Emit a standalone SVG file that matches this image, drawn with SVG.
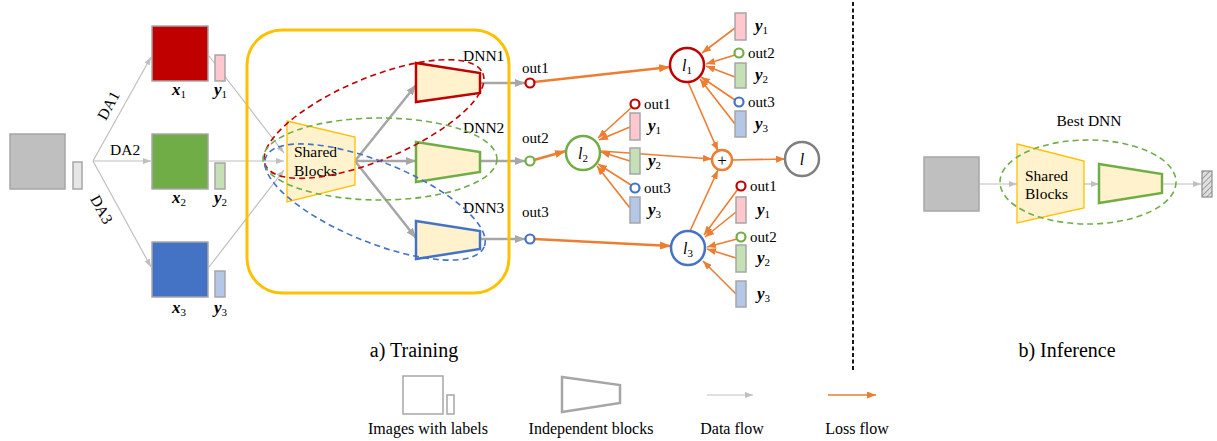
<svg xmlns="http://www.w3.org/2000/svg" width="1217" height="441" viewBox="0 0 1217 441" font-family="'Liberation Serif', 'DejaVu Serif', 'Times New Roman', serif">
<defs>
<style>
text { font-family: 'Liberation Serif', 'DejaVu Serif', 'Times New Roman', serif; fill: #000; }
.t15 { font-size: 15.5px; }
.out { font-size: 15px; }
.math { font-weight: bold; font-style: italic; font-size: 17px; }
.sub { font-size: 11px; font-weight: normal; font-style: normal; }
.lv { font-style: italic; font-size: 16px; }
.cap { font-size: 20px; }
.leg { font-size: 16px; }
.data { stroke: #bfbfbf; stroke-width: 1.2; fill: none; marker-end: url(#ah-g); }
.thick { stroke: #a6a6a6; stroke-width: 2.5; fill: none; marker-end: url(#ah-gl); }
.loss { stroke: #ed7d31; stroke-width: 1.6; fill: none; marker-end: url(#ah-o); }
.loss2 { stroke: #ed7d31; stroke-width: 2.4; fill: none; marker-end: url(#ah-o2); }
.trap { fill: #fff2cc; stroke-width: 2.5; stroke-linejoin: miter; }
.ell { fill: none; stroke-width: 1.6; stroke-dasharray: 6 4; }
.lbl { stroke: #a6a6a6; stroke-width: 1.5; }
.pink { fill: #ffc7ce; }
.lgreen { fill: #c5e0b4; }
.lblue { fill: #b4c7e7; }
.oc { fill: #fff; stroke-width: 2.2; }
.red { stroke: #c00000; }
.green { stroke: #70ad47; }
.blue { stroke: #4472c4; }
</style>
<marker id="ah-g" viewBox="0 0 8 6" refX="8" refY="3" markerWidth="8" markerHeight="6" orient="auto" markerUnits="userSpaceOnUse"><path d="M0,0 L8,3 L0,6 z" fill="#bfbfbf"/></marker>
<marker id="ah-gl" viewBox="0 0 10 8" refX="10" refY="4" markerWidth="10" markerHeight="8" orient="auto" markerUnits="userSpaceOnUse"><path d="M0,0 L10,4 L0,8 z" fill="#a6a6a6"/></marker>
<marker id="ah-o" viewBox="0 0 9 7" refX="9" refY="3.5" markerWidth="9" markerHeight="7" orient="auto" markerUnits="userSpaceOnUse"><path d="M0,0 L9,3.5 L0,7 z" fill="#ed7d31"/></marker>
<marker id="ah-o2" viewBox="0 0 11 8" refX="11" refY="4" markerWidth="11" markerHeight="8" orient="auto" markerUnits="userSpaceOnUse"><path d="M0,0 L11,4 L0,8 z" fill="#ed7d31"/></marker>
<pattern id="hatch" width="4" height="4" patternUnits="userSpaceOnUse" patternTransform="rotate(45)"><rect width="4" height="4" fill="#e0e0e0"/><line x1="0" y1="0" x2="0" y2="4" stroke="#8c8c8c" stroke-width="1.6"/></pattern>
</defs>

<rect width="1217" height="441" fill="#fff"/>

<g id="connectors">
  <line class="data" x1="93" y1="161" x2="151" y2="57"/>
  <line class="data" x1="93" y1="161" x2="151" y2="161"/>
  <line class="data" x1="93" y1="161" x2="151" y2="267"/>
  <line class="data" x1="209" y1="56" x2="284" y2="153"/>
  <line class="data" x1="209" y1="161" x2="284" y2="161"/>
  <line class="data" x1="209" y1="267" x2="284" y2="170"/>
  <line class="thick" x1="355" y1="161" x2="416" y2="85"/>
  <line class="thick" x1="355" y1="161" x2="416" y2="161"/>
  <line class="thick" x1="355" y1="161" x2="416" y2="238"/>
  <line class="thick" x1="480" y1="83" x2="525" y2="83"/>
  <line class="thick" x1="480" y1="161" x2="525" y2="161"/>
  <line class="thick" x1="480" y1="239" x2="525" y2="239"/>
  <line class="loss2" x1="534" y1="82" x2="670" y2="67"/>
  <line class="loss2" x1="534" y1="160" x2="566" y2="151"/>
  <line class="loss2" x1="534" y1="239" x2="671" y2="246"/>
  <line class="loss" x1="688" y1="82" x2="718" y2="151"/>
  <line class="loss" x1="690" y1="231" x2="718" y2="170"/>
  <line class="loss" x1="601" y1="151" x2="712" y2="159"/>
  <line class="loss" x1="732" y1="160" x2="785" y2="159"/>
  <line class="loss" x1="735" y1="28" x2="702" y2="53"/>
  <line class="loss" x1="735" y1="55" x2="706" y2="64"/>
  <line class="loss" x1="735" y1="77" x2="706" y2="66"/>
  <line class="loss" x1="735" y1="100" x2="701" y2="77"/>
  <line class="loss" x1="735" y1="124" x2="700" y2="79"/>
  <line class="loss" x1="632" y1="107" x2="598" y2="138"/>
  <line class="loss" x1="630" y1="127" x2="599" y2="140"/>
  <line class="loss" x1="630" y1="161" x2="601" y2="152"/>
  <line class="loss" x1="631" y1="185" x2="598" y2="164"/>
  <line class="loss" x1="630" y1="208" x2="597" y2="166"/>
  <line class="loss" x1="738" y1="189" x2="704" y2="235"/>
  <line class="loss" x1="736" y1="212" x2="705" y2="237"/>
  <line class="loss" x1="737" y1="239" x2="707" y2="247"/>
  <line class="loss" x1="736" y1="258" x2="707" y2="249"/>
  <line class="loss" x1="736" y1="294" x2="703" y2="261"/>
  <line class="data" x1="979" y1="184" x2="1017" y2="184"/>
  <line class="data" x1="1084" y1="184" x2="1099" y2="184"/>
  <line class="data" x1="1162" y1="184" x2="1201" y2="184"/>
</g>

<g id="source">
  <rect x="10" y="134" width="55" height="55" fill="#bfbfbf" stroke="#a6a6a6" stroke-width="1.5"/>
  <rect x="73" y="162" width="9" height="27" fill="#e6e6e6" class="lbl"/>
</g>
<g id="da-labels">
  <text class="t15" transform="translate(113,108) rotate(-61)" text-anchor="middle">DA1</text>
  <text class="t15" x="110" y="155">DA2</text>
  <text class="t15" transform="translate(97,212) rotate(61)" text-anchor="middle">DA3</text>
</g>

<g id="img1">
  <rect x="152" y="26" width="56" height="55" fill="#c00000" stroke="#a6a6a6" stroke-width="1.5"/>
  <rect x="215" y="55" width="10" height="26" class="pink lbl"/>
  <text class="math" x="172" y="95">x<tspan class="sub" dy="3">1</tspan></text>
  <text class="math" x="214" y="95">y<tspan class="sub" dy="3">1</tspan></text>
</g>
<g id="img2">
  <rect x="152" y="134" width="56" height="55" fill="#70ad47" stroke="#a6a6a6" stroke-width="1.5"/>
  <rect x="215" y="163" width="10" height="26" class="lgreen lbl"/>
  <text class="math" x="172" y="203">x<tspan class="sub" dy="3">2</tspan></text>
  <text class="math" x="214" y="203">y<tspan class="sub" dy="3">2</tspan></text>
</g>
<g id="img3">
  <rect x="152" y="242" width="56" height="55" fill="#4472c4" stroke="#a6a6a6" stroke-width="1.5"/>
  <rect x="215" y="271" width="10" height="26" class="lblue lbl"/>
  <text class="math" x="172" y="313">x<tspan class="sub" dy="3">3</tspan></text>
  <text class="math" x="214" y="313">y<tspan class="sub" dy="3">3</tspan></text>
</g>

<g id="training-box">
  <rect x="247" y="30" width="262" height="263" rx="35" fill="none" stroke="#ffc000" stroke-width="3"/>
</g>

<g id="shared-blocks">
  <polygon points="287,121 355,137 355,185 287,202" fill="#fff2cc" stroke="#ffc000" stroke-width="1.3"/>
  <text class="t15" x="294" y="157">Shared</text>
  <text class="t15" x="294" y="176">Blocks</text>
</g>

<g id="dnn1">
  <polygon class="trap red" points="416,63 480,73 480,93 416,102"/>
  <text class="t15" x="463" y="61">DNN1</text>
</g>
<g id="dnn2">
  <polygon class="trap green" points="416,142 480,152 480,172 416,182"/>
  <text class="t15" x="463" y="133">DNN2</text>
</g>
<g id="dnn3">
  <polygon class="trap blue" points="416,221 480,231 480,249 416,259"/>
  <text class="t15" x="463" y="213">DNN3</text>
</g>

<g id="ellipses">
  <ellipse class="ell red" cx="374" cy="119" rx="118" ry="41" transform="rotate(-22.8 374 119)"/>
  <ellipse class="ell green" cx="380" cy="159" rx="117" ry="41"/>
  <ellipse class="ell blue" cx="375" cy="202" rx="118" ry="40" transform="rotate(22.3 375 202)"/>
</g>

<g id="out1">
  <circle class="oc red" cx="530" cy="83" r="4.5"/>
  <text class="out" x="522" y="73">out1</text>
</g>
<g id="out2">
  <circle class="oc green" cx="530" cy="161" r="4.5"/>
  <text class="out" x="522" y="143">out2</text>
</g>
<g id="out3">
  <circle class="oc blue" cx="530" cy="239" r="4.5"/>
  <text class="out" x="522" y="217">out3</text>
</g>

<g id="l1">
  <circle cx="687" cy="65" r="17" fill="#fff" stroke="#c00000" stroke-width="2.5"/>
  <text class="lv" x="682" y="71">l<tspan class="sub" dy="3">1</tspan></text>
</g>
<g id="l1-inputs">
  <rect x="735" y="13" width="11" height="27" class="pink lbl"/>
  <text class="math" x="755" y="31">y<tspan class="sub" dy="3">1</tspan></text>
  <circle class="oc green" cx="739" cy="53" r="4.5"/>
  <text class="out" x="748" y="58">out2</text>
  <rect x="735" y="63" width="11" height="25" class="lgreen lbl"/>
  <text class="math" x="755" y="80">y<tspan class="sub" dy="3">2</tspan></text>
  <circle class="oc blue" cx="739" cy="102" r="4.5"/>
  <text class="out" x="748" y="107">out3</text>
  <rect x="735" y="111" width="11" height="26" class="lblue lbl"/>
  <text class="math" x="755" y="129">y<tspan class="sub" dy="3">3</tspan></text>
</g>

<g id="l2">
  <circle cx="583" cy="153" r="17" fill="#fff" stroke="#70ad47" stroke-width="2.5"/>
  <text class="lv" x="578" y="159">l<tspan class="sub" dy="3">2</tspan></text>
</g>
<g id="l2-inputs">
  <circle class="oc red" cx="635" cy="104" r="4.5"/>
  <text class="out" x="644" y="109">out1</text>
  <rect x="630" y="113" width="10" height="27" class="pink lbl"/>
  <text class="math" x="648" y="131">y<tspan class="sub" dy="3">1</tspan></text>
  <rect x="630" y="148" width="10" height="26" class="lgreen lbl"/>
  <text class="math" x="648" y="166">y<tspan class="sub" dy="3">2</tspan></text>
  <circle class="oc blue" cx="635" cy="188" r="4.5"/>
  <text class="out" x="644" y="193">out3</text>
  <rect x="630" y="197" width="10" height="26" class="lblue lbl"/>
  <text class="math" x="648" y="215">y<tspan class="sub" dy="3">3</tspan></text>
</g>

<g id="l3">
  <circle cx="688" cy="248" r="17" fill="#fff" stroke="#4472c4" stroke-width="2.5"/>
  <text class="lv" x="683" y="254">l<tspan class="sub" dy="3">3</tspan></text>
</g>
<g id="l3-inputs">
  <circle class="oc red" cx="741" cy="186" r="4.5"/>
  <text class="out" x="750" y="191">out1</text>
  <rect x="736" y="197" width="10" height="26" class="pink lbl"/>
  <text class="math" x="757" y="215">y<tspan class="sub" dy="3">1</tspan></text>
  <circle class="oc green" cx="741" cy="237" r="4.5"/>
  <text class="out" x="750" y="242">out2</text>
  <rect x="736" y="245" width="10" height="27" class="lgreen lbl"/>
  <text class="math" x="757" y="263">y<tspan class="sub" dy="3">2</tspan></text>
  <rect x="736" y="281" width="10" height="26" class="lblue lbl"/>
  <text class="math" x="757" y="299">y<tspan class="sub" dy="3">3</tspan></text>
</g>

<g id="plus">
  <circle cx="722" cy="160" r="10" fill="#fff" stroke="#ed7d31" stroke-width="2.5"/>
  <text x="722" y="165.5" font-size="17" text-anchor="middle">+</text>
</g>
<g id="total-loss">
  <circle cx="802" cy="159" r="17" fill="#fff" stroke="#7f7f7f" stroke-width="2.5"/>
  <text class="lv" x="802" y="165" font-size="17" text-anchor="middle">l</text>
</g>

<g id="divider">
  <line x1="853" y1="2" x2="853" y2="370" stroke="#000" stroke-width="1.8" stroke-dasharray="4 2.5"/>
</g>

<g id="captions">
  <text class="cap" x="414" y="357" text-anchor="middle">a) Training</text>
  <text class="cap" x="1067" y="357" text-anchor="middle">b) Inference</text>
</g>

<g id="inf-input">
  <rect x="924" y="157" width="55" height="54" fill="#bfbfbf" stroke="#a6a6a6" stroke-width="1.5"/>
</g>
<g id="inf-shared">
  <polygon points="1017,144 1084,161 1084,208 1017,223" fill="#fff2cc" stroke="#ffc000" stroke-width="1.3"/>
  <text class="t15" x="1025" y="181">Shared</text>
  <text class="t15" x="1025" y="199">Blocks</text>
</g>
<g id="inf-dnn">
  <polygon class="trap green" points="1099,164 1162,174 1162,193 1099,203"/>
</g>
<g id="best-dnn">
  <ellipse class="ell green" cx="1088" cy="182" rx="88" ry="42"/>
  <text class="t15" x="1089" y="126" text-anchor="middle">Best DNN</text>
</g>
<g id="inf-output">
  <rect x="1202" y="171" width="10" height="26" fill="url(#hatch)" stroke="#8c8c8c" stroke-width="1.2"/>
</g>

<g id="legend-images">
  <rect x="403" y="376" width="40" height="38" fill="none" stroke="#a6a6a6" stroke-width="1.5"/>
  <rect x="447" y="395" width="7" height="19" fill="none" stroke="#a6a6a6" stroke-width="1.5"/>
  <text class="leg" x="428" y="434" text-anchor="middle">Images with labels</text>
</g>
<g id="legend-blocks">
  <polygon points="562,377 620,385 620,403 562,412" fill="none" stroke="#a6a6a6" stroke-width="2.5"/>
  <text class="leg" x="591" y="434" text-anchor="middle">Independent blocks</text>
</g>
<g id="legend-data">
  <line class="data" x1="707" y1="395" x2="753" y2="395"/>
  <text class="leg" x="732" y="434" text-anchor="middle">Data flow</text>
</g>
<g id="legend-loss">
  <line class="loss" x1="828" y1="395" x2="876" y2="395"/>
  <text class="leg" x="857" y="434" text-anchor="middle">Loss flow</text>
</g>
</svg>
